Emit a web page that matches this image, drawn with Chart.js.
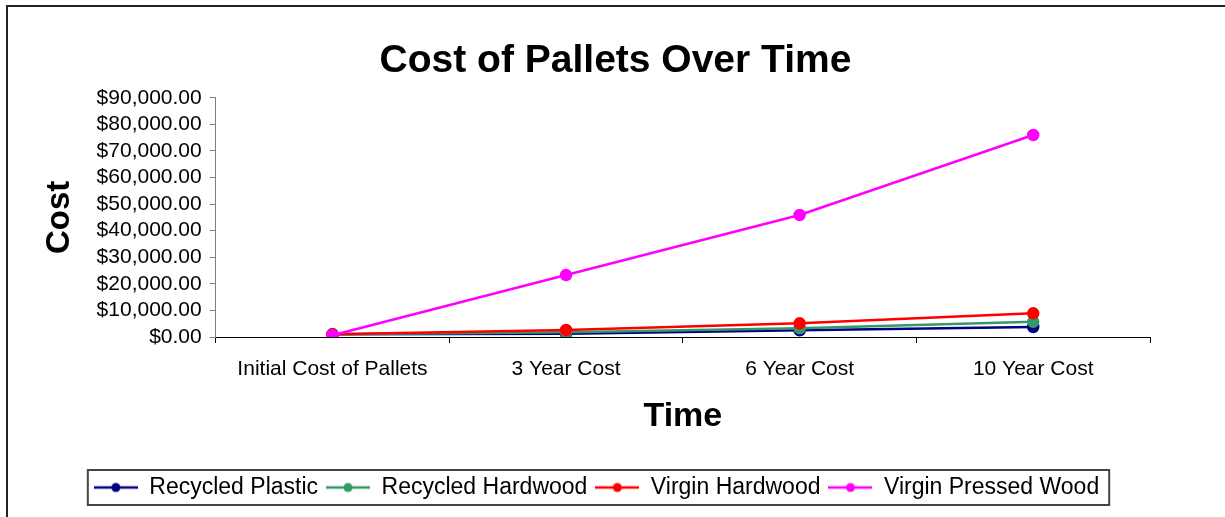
<!DOCTYPE html>
<html>
<head>
<meta charset="utf-8">
<script src="https://cdn.jsdelivr.net/npm/chart.js@4"></script>
<style>
  html, body { margin: 0; padding: 0; background: #fff; }
  #wrap { width: 1225px; height: 517px; }
</style>
</head>
<body>
<div id="wrap"><canvas id="grafico"></canvas></div>
<script>
// valores
const categorias = ['Initial Cost of Pallets', '3 Year Cost', '6 Year Cost', '10 Year Cost'];
const recycledPlastic = [1000, 1250, 2500, 3760];
const recycledHardwood = [1000, 1750, 3300, 5750];
const virginHardwood = [1000, 2630, 5150, 8900];
const virginPressedWood = [650, 23300, 45900, 76000];
const nomesSeries = ['Recycled Plastic', 'Recycled Hardwood', 'Virgin Hardwood', 'Virgin Pressed Wood'];
const coresSeries = ['#000080', '#339966', '#ff0000', '#ff00ff'];

Chart.defaults.font.family = "'Liberation Sans', Arial, sans-serif";
Chart.defaults.color = '#000';

// icone da legenda: linha com bolinha
function iconeLegenda(cor) {
    const c = document.createElement('canvas');
    c.width = 44; c.height = 12;
    const g = c.getContext('2d');
    g.strokeStyle = cor;
    g.lineWidth = 2.5;
    g.beginPath(); g.moveTo(0, 6); g.lineTo(44, 6); g.stroke();
    g.fillStyle = cor;
    g.beginPath(); g.arc(22, 6, 4.5, 0, Math.PI * 2); g.fill();
    return c;
}

const molduraPlugin = {
    id: 'moldura',
    afterLayout(chart) {
        // legenda e titulo um pouco para a direita
        const lg = chart.legend;
        lg.left += 11; lg.right += 11;
        const tb = chart.titleBlock;
        tb.left += 30; tb.right += 30;
    },
    beforeDraw(chart) {
        const ctx = chart.ctx;
        ctx.save();
        ctx.fillStyle = '#fff';
        ctx.fillRect(0, 0, chart.width, chart.height);
        ctx.strokeStyle = '#222';
        ctx.lineWidth = 2;
        ctx.beginPath();
        ctx.moveTo(7, chart.height);
        ctx.lineTo(7, 6);
        ctx.lineTo(chart.width, 6);
        ctx.stroke();
        ctx.restore();
    },
    afterDraw(chart) {
        const boxes = chart.legend.legendHitBoxes;
        if (!boxes || !boxes.length) return;
        let l = Infinity, r = -Infinity, t = Infinity, b = -Infinity;
        boxes.forEach(h => {
            l = Math.min(l, h.left); r = Math.max(r, h.left + h.width);
            t = Math.min(t, h.top); b = Math.max(b, h.top + h.height);
        });
        const ctx = chart.ctx;
        ctx.save();
        ctx.strokeStyle = '#444';
        ctx.lineWidth = 2;
        ctx.strokeRect(l - 6, t - 6, r - l + 16, b - t + 12);
        ctx.restore();
    }
};

const series = [recycledPlastic, recycledHardwood, virginHardwood, virginPressedWood];

new Chart(document.getElementById('grafico'), {
    type: 'line',
    data: {
        labels: categorias,
        datasets: series.map((valores, i) => ({
            label: nomesSeries[i],
            data: valores,
            order: series.length - 1 - i,
            borderColor: coresSeries[i],
            backgroundColor: coresSeries[i],
            borderWidth: 2.5,
            pointRadius: 5,
            pointHoverRadius: 5,
            tension: 0
        }))
    },
    options: {
        responsive: true,
        maintainAspectRatio: false,
        animation: false,
        layout: { padding: { left: 21, right: 75, top: 38, bottom: 8 } },
        plugins: {
            title: {
                display: true,
                text: 'Cost of Pallets Over Time',
                font: { size: 39, weight: 'bold' },
                padding: { top: 0, bottom: 13 }
            },
            legend: {
                position: 'bottom',
                labels: {
                    font: { size: 23 },
                    usePointStyle: true,
                    pointStyleWidth: 44,
                    padding: 8,
                    generateLabels(chart) {
                        return chart.data.datasets.map((ds, i) => ({
                            text: ds.label,
                            pointStyle: iconeLegenda(ds.borderColor),
                            fillStyle: ds.borderColor,
                            strokeStyle: ds.borderColor,
                            lineWidth: 0,
                            hidden: false,
                            datasetIndex: i
                        }));
                    }
                }
            },
            tooltip: { enabled: false }
        },
        scales: {
            x: {
                offset: true,
                grid: { offset: true, drawOnChartArea: false, color: '#000', tickLength: 6 },
                border: { color: '#000', width: 1 },
                ticks: { font: { size: 21 }, padding: 14, maxRotation: 0 },
                title: { display: true, text: 'Time', font: { size: 34, weight: 'bold' }, padding: { top: 0, bottom: 31 } }
            },
            y: {
                min: 0,
                max: 90000,
                ticks: {
                    stepSize: 10000,
                    autoSkip: false,
                    font: { size: 21 },
                    padding: 8,
                    callback: v => '$' + v.toLocaleString('en-US', { minimumFractionDigits: 2, maximumFractionDigits: 2 })
                },
                grid: { drawOnChartArea: false, color: '#808080', tickLength: 6 },
                border: { color: '#808080', width: 1 },
                title: { display: true, text: 'Cost', font: { size: 33, weight: 'bold' }, padding: { top: 19, bottom: 9 } }
            }
        }
    },
    plugins: [molduraPlugin]
});
</script>
</body>
</html>
